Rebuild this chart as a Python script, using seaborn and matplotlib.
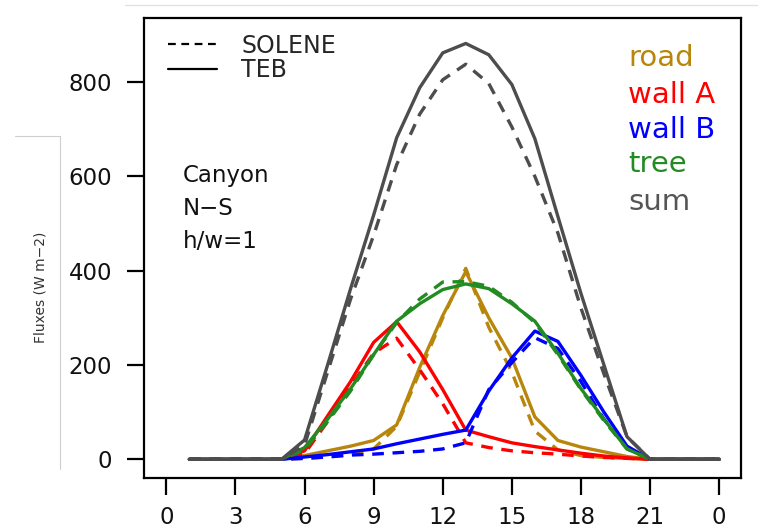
import matplotlib
matplotlib.use("Agg")
import matplotlib.pyplot as plt
from matplotlib.lines import Line2D
import seaborn as sns
import pandas as pd

hours = list(range(1, 25))

# TEB (solid)
teb_road  = [0, 0, 0, 0, 0, 8, 18, 28, 40, 73, 195, 305, 398, 300, 215, 90, 40, 26, 16, 6, 0, 0, 0, 0]
teb_wallA = [0, 0, 0, 0, 0, 18, 92, 165, 248, 292, 228, 148, 62, 48, 35, 27, 20, 13, 7, 3, 0, 0, 0, 0]
teb_wallB = [0, 0, 0, 0, 0, 5, 10, 16, 22, 33, 43, 53, 62, 145, 215, 272, 250, 178, 100, 28, 0, 0, 0, 0]
teb_tree  = [0, 0, 0, 0, 0, 25, 85, 150, 222, 293, 330, 360, 372, 362, 330, 293, 225, 150, 85, 22, 0, 0, 0, 0]
teb_sum   = [0, 0, 0, 0, 0, 41, 200, 362, 518, 682, 788, 862, 882, 858, 795, 680, 515, 352, 200, 48, 0, 0, 0, 0]

# SOLENE (dashed)
sol_road  = [0, 0, 0, 0, 0, 2, 5, 10, 22, 70, 185, 300, 405, 280, 185, 60, 20, 8, 4, 2, 0, 0, 0, 0]
sol_wallA = [0, 0, 0, 0, 0, 12, 80, 155, 225, 257, 190, 118, 35, 25, 18, 14, 11, 7, 4, 2, 0, 0, 0, 0]
sol_wallB = [0, 0, 0, 0, 0, 2, 5, 9, 11, 14, 17, 22, 35, 148, 205, 258, 235, 165, 85, 25, 0, 0, 0, 0]
sol_tree  = [0, 0, 0, 0, 0, 20, 80, 145, 222, 290, 340, 376, 377, 367, 333, 290, 222, 148, 82, 22, 0, 0, 0, 0]
sol_sum   = [0, 0, 0, 0, 0, 30, 185, 340, 475, 625, 732, 805, 838, 797, 705, 600, 480, 321, 181, 48, 0, 0, 0, 0]

components = ["road", "wall A", "wall B", "tree", "sum"]
colors = {"road": "#B8860B", "wall A": "#FF0000", "wall B": "#0000FF",
          "tree": "#228B22", "sum": "#4D4D4D"}
text_colors = {"road": "#B8860B", "wall A": "#FF0000", "wall B": "#0000FF",
               "tree": "#228B22", "sum": "#555555"}
xtick_pos = [0, 3, 6, 9, 12, 15, 18, 21, 24]
xtick_labels = ["0", "3", "6", "9", "12", "15", "18", "21", "0"]
ytick_pos = [0, 200, 400, 600, 800]

teb = {"road": teb_road, "wall A": teb_wallA, "wall B": teb_wallB, "tree": teb_tree, "sum": teb_sum}
sol = {"road": sol_road, "wall A": sol_wallA, "wall B": sol_wallB, "tree": sol_tree, "sum": sol_sum}

rows = []
for c in components:
    for h, v in zip(hours, sol[c]):
        rows.append({"hour": h, "flux": v, "comp": c, "model": "SOLENE"})
    for h, v in zip(hours, teb[c]):
        rows.append({"hour": h, "flux": v, "comp": c, "model": "TEB"})
df = pd.DataFrame(rows)

sns.set_style("white")
plt.rcParams["font.family"] = ["DejaVu Sans"]

W, H = 758, 529
fig = plt.figure(figsize=(W / 100, H / 100), dpi=100)
ax = fig.add_axes([144 / W, 1 - 478 / H, (741 - 144) / W, (478 - 18) / H])

LW = 2.4
dash = (0, (3.5, 2.6))
for c in components:
    sub = df[(df.comp == c) & (df.model == "SOLENE")]
    sns.lineplot(data=sub, x="hour", y="flux", ax=ax, color=colors[c], lw=LW,
                 linestyle=dash, legend=False, errorbar=None)
    sub = df[(df.comp == c) & (df.model == "TEB")]
    sns.lineplot(data=sub, x="hour", y="flux", ax=ax, color=colors[c], lw=LW,
                 linestyle="-", legend=False, errorbar=None)

ax.set_xlim(-0.97, 24.95)
ax.set_ylim(-39.6, 936)
ax.set_xticks(xtick_pos)
ax.set_xticklabels(xtick_labels)
ax.set_yticks(ytick_pos)
ax.set_xlabel("")
ax.set_ylabel("")
for s in ax.spines.values():
    s.set_visible(True)
    s.set_color("black")
    s.set_linewidth(1.6)
ax.tick_params(axis="both", which="both", direction="out", length=12, width=1.6,
               color="black", labelsize=16.5, labelcolor="#111111", left=True, bottom=True)
ax.tick_params(axis="y", pad=11)
ax.tick_params(axis="x", pad=8)

# legend for model line styles
handles = [Line2D([], [], color="black", lw=1.6, linestyle=(0, (3.5, 2.5))),
           Line2D([], [], color="black", lw=1.6, linestyle="-")]
leg = ax.legend(handles, ["SOLENE", "TEB"], loc="upper left",
                bbox_to_anchor=(0.040, 0.966), frameon=False, fontsize=17,
                handlelength=2.1, handletextpad=1.0, labelspacing=0.02,
                borderpad=0, borderaxespad=0)

# component labels
baselines = [66, 103, 138, 172, 210]
for c, yb in zip(components, baselines):
    ax.text((628 - 144) / 597, (478 - yb) / 460, c, transform=ax.transAxes,
            color=text_colors[c], fontsize=21, ha="left", va="baseline")

# site description
for t, yb in zip(["Canyon", "N\u2212S", "h/w=1"], [182, 215, 248]):
    ax.text((183 - 144) / 597, (478 - yb) / 460, t, transform=ax.transAxes,
            color="#111111", fontsize=16.5, ha="left", va="baseline")

fig.text(40 / W, 1 - 287 / H, "Fluxes (W m\u22122)", rotation=90, fontsize=10,
         color="#333333", ha="center", va="center")

# faint screenshot borders
fig.add_artist(Line2D([125 / W, 1], [1 - 5 / H, 1 - 5 / H], color="#e2e2e2", lw=1))
fig.add_artist(Line2D([15 / W, 60 / W], [1 - 136 / H, 1 - 136 / H], color="#cfcfcf", lw=0.8))
fig.add_artist(Line2D([60 / W, 60 / W], [1 - 136 / H, 1 - 469 / H], color="#cfcfcf", lw=0.8))

fig.savefig("out.png", dpi=100)
